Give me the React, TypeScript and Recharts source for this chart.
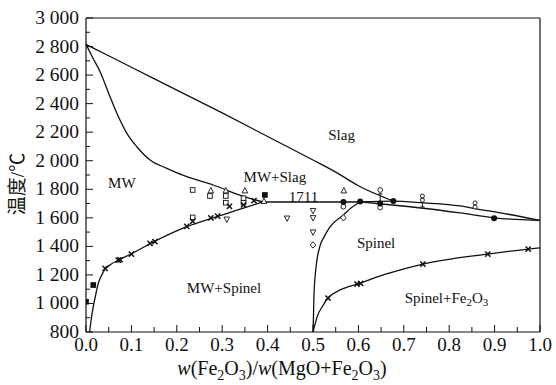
import React from 'react';
import { ComposedChart, Line, Scatter, XAxis, YAxis, ReferenceLine, ReferenceDot } from 'recharts';

// phase diagram MgO-Fe2O3
const slagLiquidus = [
  { x: 0, y: 2815 }, { x: 0.1, y: 2655 }, { x: 0.2, y: 2495 }, { x: 0.3, y: 2335 },
  { x: 0.4, y: 2170 }, { x: 0.5, y: 2005 }, { x: 0.55, y: 1920 }, { x: 0.6, y: 1825 },
  { x: 0.64, y: 1765 }, { x: 0.677, y: 1718 },
];
const mwLiquidus = [
  { x: 0, y: 2815 }, { x: 0.015, y: 2720 }, { x: 0.031, y: 2624 }, { x: 0.053, y: 2448 },
  { x: 0.068, y: 2332 }, { x: 0.09, y: 2192 }, { x: 0.112, y: 2098 }, { x: 0.141, y: 2005 },
  { x: 0.178, y: 1947 }, { x: 0.222, y: 1888 }, { x: 0.28, y: 1830 }, { x: 0.347, y: 1750 },
  { x: 0.39, y: 1711 },
];
const mwSolidus = [
  { x: 0.008, y: 800 }, { x: 0.012, y: 900 }, { x: 0.016, y: 978 }, { x: 0.022, y: 1070 },
  { x: 0.027, y: 1141 }, { x: 0.034, y: 1195 }, { x: 0.042, y: 1240 }, { x: 0.055, y: 1275 },
  { x: 0.071, y: 1303 }, { x: 0.1, y: 1348 }, { x: 0.145, y: 1425 }, { x: 0.222, y: 1538 },
  { x: 0.28, y: 1600 }, { x: 0.31, y: 1630 }, { x: 0.35, y: 1672 }, { x: 0.39, y: 1711 },
];
const eutectic = [{ x: 0.39, y: 1711 }, { x: 0.604, y: 1711 }];
const upperRight = [
  { x: 0.604, y: 1711 }, { x: 0.677, y: 1717 }, { x: 0.743, y: 1705 }, { x: 0.824, y: 1683 },
  { x: 0.86, y: 1663 }, { x: 0.93, y: 1625 }, { x: 1.0, y: 1582 },
];
const lowerRight = [
  { x: 0.604, y: 1711 }, { x: 0.68, y: 1688 }, { x: 0.743, y: 1667 }, { x: 0.824, y: 1634 },
  { x: 0.9, y: 1600 }, { x: 1.0, y: 1582 },
];
const spinelBoundary = [
  { x: 0.5, y: 800 }, { x: 0.501, y: 900 }, { x: 0.502, y: 1047 }, { x: 0.506, y: 1234 },
  { x: 0.515, y: 1398 }, { x: 0.525, y: 1470 }, { x: 0.537, y: 1535 }, { x: 0.567, y: 1620 },
  { x: 0.585, y: 1672 }, { x: 0.604, y: 1711 },
];
const fe2o3Boundary = [
  { x: 0.5, y: 800 }, { x: 0.505, y: 860 }, { x: 0.51, y: 915 }, { x: 0.52, y: 975 },
  { x: 0.533, y: 1038 }, { x: 0.56, y: 1095 }, { x: 0.6, y: 1138 }, { x: 0.66, y: 1205 },
  { x: 0.742, y: 1276 }, { x: 0.885, y: 1346 }, { x: 0.974, y: 1381 }, { x: 1.0, y: 1390 },
];

// experimental points
const squarePts = [
  { x: 0.235, y: 1795 }, { x: 0.273, y: 1753 }, { x: 0.308, y: 1753 }, { x: 0.308, y: 1706 },
  { x: 0.347, y: 1737 }, { x: 0.347, y: 1706 }, { x: 0.235, y: 1603 },
];
const triUpPts = [
  { x: 0.275, y: 1790 }, { x: 0.308, y: 1790 }, { x: 0.35, y: 1790 }, { x: 0.568, y: 1790 },
  { x: 0.392, y: 1716 },
];
const triDownPts = [
  { x: 0.31, y: 1590 }, { x: 0.443, y: 1597 }, { x: 0.5, y: 1650 }, { x: 0.5, y: 1600 },
  { x: 0.5, y: 1500 },
];
const circlePts = [{ x: 0.648, y: 1795 }, { x: 0.567, y: 1678 }, { x: 0.648, y: 1672 }];
const diamondPts = [{ x: 0.567, y: 1600 }, { x: 0.5, y: 1410 }];
const dotPts = [
  { x: 0.567, y: 1711 }, { x: 0.604, y: 1715 }, { x: 0.648, y: 1700 }, { x: 0.677, y: 1718 },
  { x: 0.899, y: 1597 },
];
const doublePts = [{ x: 0.741, y: 1738 }, { x: 0.857, y: 1690 }];
const barPts = [{ x: 0.648, y: 1740 }, { x: 0.741, y: 1705 }];
const filledSquarePts = [{ x: 0.0, y: 1012 }, { x: 0.016, y: 1129 }, { x: 0.394, y: 1760 }];
const crossPts = [
  { x: 0.042, y: 1246 }, { x: 0.071, y: 1304 }, { x: 0.075, y: 1306 }, { x: 0.1, y: 1346 },
  { x: 0.141, y: 1421 }, { x: 0.152, y: 1433 }, { x: 0.222, y: 1540 }, { x: 0.235, y: 1575 },
  { x: 0.275, y: 1600 }, { x: 0.29, y: 1612 }, { x: 0.316, y: 1680 }, { x: 0.347, y: 1690 },
  { x: 0.37, y: 1720 },
  { x: 0.533, y: 1038 }, { x: 0.597, y: 1136 }, { x: 0.605, y: 1140 }, { x: 0.742, y: 1276 },
  { x: 0.885, y: 1346 }, { x: 0.974, y: 1381 },
];

const xTicks = [0, 0.05, 0.1, 0.15, 0.2, 0.25, 0.3, 0.35, 0.4, 0.45, 0.5, 0.55, 0.6, 0.65, 0.7, 0.75, 0.8, 0.85, 0.9, 0.95, 1.0];
const xLabels = ['0.0', '0.1', '0.2', '0.3', '0.4', '0.5', '0.6', '0.7', '0.8', '0.9', '1.0'];
const yTicks = [800, 900, 1000, 1100, 1200, 1300, 1400, 1500, 1600, 1700, 1800, 1900, 2000, 2100, 2200, 2300, 2400, 2500, 2600, 2700, 2800, 2900, 3000];
const yLabels = ['800', '1 000', '1 200', '1 400', '1 600', '1 800', '2 000', '2 200', '2 400', '2 600', '2 800', '3 000'];

const FONT = 'Liberation Serif, DejaVu Serif, serif';
const serif = { fontFamily: FONT };
const LEFT = 86;
const BOTTOM = 332;
const INK = '#111';

function XTick({ x, payload }: any) {
  const k = Math.round(payload.value * 100);
  const major = k % 10 === 0;
  return (
    <g>
      <line x1={x} x2={x} y1={BOTTOM} y2={BOTTOM - (major ? 7 : 5)} stroke={INK} strokeWidth={1} />
      {major && (
        <text x={x} y={BOTTOM + 19} textAnchor="middle" style={serif} fontSize={19} fill={INK}>
          {xLabels[k / 10]}
        </text>
      )}
    </g>
  );
}

function YTick({ y, payload }: any) {
  const v = payload.value;
  const major = v % 200 === 0;
  return (
    <g>
      <line x1={LEFT} x2={LEFT + (major ? 7 : 4)} y1={y} y2={y} stroke={INK} strokeWidth={1} />
      {major && (
        <text x={79} y={y + 6} textAnchor="end" style={serif} fontSize={19.5} fill={INK}>
          {yLabels[(v - 800) / 200]}
        </text>
      )}
    </g>
  );
}

const sq = (p: any) => <rect x={p.cx - 2.3} y={p.cy - 2.3} width={4.6} height={4.6} fill="#fff" stroke={INK} strokeWidth={0.9} />;
const fsq = (p: any) => <rect x={p.cx - 2.3} y={p.cy - 2.3} width={4.6} height={4.6} fill={INK} stroke={INK} strokeWidth={1} />;
const tup = (p: any) => (
  <polygon points={`${p.cx},${p.cy - 3.2} ${p.cx - 2.8},${p.cy + 2.2} ${p.cx + 2.8},${p.cy + 2.2}`} fill="#fff" stroke={INK} strokeWidth={0.9} />
);
const tdn = (p: any) => (
  <polygon points={`${p.cx},${p.cy + 3.2} ${p.cx - 2.8},${p.cy - 2.2} ${p.cx + 2.8},${p.cy - 2.2}`} fill="#fff" stroke={INK} strokeWidth={0.9} />
);
const circ = (p: any) => <circle cx={p.cx} cy={p.cy} r={2.4} fill="#fff" stroke={INK} strokeWidth={0.9} />;
const dia = (p: any) => (
  <polygon points={`${p.cx},${p.cy - 3.2} ${p.cx + 2.8},${p.cy} ${p.cx},${p.cy + 3.2} ${p.cx - 2.8},${p.cy}`} fill="#fff" stroke={INK} strokeWidth={0.9} />
);
const dot = (p: any) => <circle cx={p.cx} cy={p.cy} r={3} fill={INK} />;
const dbl = (p: any) => (
  <g>
    <circle cx={p.cx} cy={p.cy - 2.1} r={2} fill="#fff" stroke={INK} strokeWidth={0.9} />
    <circle cx={p.cx} cy={p.cy + 2.1} r={2} fill="#fff" stroke={INK} strokeWidth={0.9} />
  </g>
);
const bar = (p: any) => (
  <g stroke={INK} strokeWidth={1}>
    <line x1={p.cx} x2={p.cx} y1={p.cy - 4} y2={p.cy + 4} />
    <line x1={p.cx - 2} x2={p.cx + 2} y1={p.cy - 4} y2={p.cy - 4} />
    <line x1={p.cx - 2} x2={p.cx + 2} y1={p.cy + 4} y2={p.cy + 4} />
  </g>
);
const cross = (p: any) => (
  <g stroke={INK} strokeWidth={1.5}>
    <line x1={p.cx - 2.6} x2={p.cx + 2.6} y1={p.cy - 2.6} y2={p.cy + 2.6} />
    <line x1={p.cx - 2.6} x2={p.cx + 2.6} y1={p.cy + 2.6} y2={p.cy - 2.6} />
  </g>
);

function regionLabel(text: React.ReactNode) {
  return {
    content: (props: any) => {
      const vb = props.viewBox || {};
      return (
        <text x={vb.x} y={vb.y} textAnchor="middle" dominantBaseline="central" style={serif} fontSize={15} fill={INK}>
          {text}
        </text>
      );
    },
  };
}

const curve = (data: any[], key: string) => (
  <Line
    key={key}
    data={data}
    dataKey="y"
    type="monotone"
    stroke={INK}
    strokeWidth={1.3}
    dot={false}
    activeDot={false}
    isAnimationActive={false}
  />
);

export default function App() {
  return (
    <div style={{ position: 'fixed', left: 0, top: 0, width: 556, height: 385, background: '#fff' }}>
      <ComposedChart width={556} height={385} margin={{ top: 18, right: 16, left: 0, bottom: 0 }}>
        <XAxis
          type="number"
          dataKey="x"
          domain={[0, 1]}
          ticks={xTicks}
          interval={0}
          tickLine={false}
          axisLine={{ stroke: INK, strokeWidth: 1.2 }}
          height={53}
          tick={<XTick />}
          allowDataOverflow
        />
        <YAxis
          type="number"
          dataKey="y"
          domain={[800, 3000]}
          ticks={yTicks}
          interval={0}
          tickLine={false}
          axisLine={{ stroke: INK, strokeWidth: 1.2 }}
          width={86}
          tick={<YTick />}
          allowDataOverflow
        />
        <ReferenceLine y={3000} stroke={INK} strokeWidth={1.2} />
        <ReferenceLine x={1} stroke={INK} strokeWidth={1.2} />

        {curve(slagLiquidus, 'slag')}
        {curve(mwLiquidus, 'mwl')}
        {curve(mwSolidus, 'mws')}
        {curve(eutectic, 'eut')}
        {curve(upperRight, 'ur')}
        {curve(lowerRight, 'lr')}
        {curve(spinelBoundary, 'sp')}
        {curve(fe2o3Boundary, 'fe')}

        <Scatter data={squarePts} dataKey="y" shape={sq} isAnimationActive={false} />
        <Scatter data={triUpPts} dataKey="y" shape={tup} isAnimationActive={false} />
        <Scatter data={triDownPts} dataKey="y" shape={tdn} isAnimationActive={false} />
        <Scatter data={circlePts} dataKey="y" shape={circ} isAnimationActive={false} />
        <Scatter data={diamondPts} dataKey="y" shape={dia} isAnimationActive={false} />
        <Scatter data={barPts} dataKey="y" shape={bar} isAnimationActive={false} />
        <Scatter data={dotPts} dataKey="y" shape={dot} isAnimationActive={false} />
        <Scatter data={doublePts} dataKey="y" shape={dbl} isAnimationActive={false} />
        <Scatter data={filledSquarePts} dataKey="y" shape={fsq} isAnimationActive={false} />
        <Scatter data={crossPts} dataKey="y" shape={cross} isAnimationActive={false} />

        <ReferenceDot x={0.563} y={2180} r={0} label={regionLabel('Slag')} />
        <ReferenceDot x={0.079} y={1842} r={0} label={regionLabel('MW')} />
        <ReferenceDot x={0.416} y={1888} r={0} label={regionLabel('MW+Slag')} />
        <ReferenceDot x={0.479} y={1748} r={0} label={regionLabel('1711')} />
        <ReferenceDot x={0.639} y={1421} r={0} label={regionLabel('Spinel')} />
        <ReferenceDot x={0.304} y={1106} r={0} label={regionLabel('MW+Spinel')} />
        <ReferenceDot
          x={0.794}
          y={1036}
          r={0}
          label={regionLabel(
            <>
              Spinel+Fe
              <tspan fontSize={11} dy={4}>2</tspan>
              <tspan dy={-4}>O</tspan>
              <tspan fontSize={11} dy={4}>3</tspan>
            </>
          )}
        />

        <text
          x={17}
          y={184}
          transform="rotate(-90 17 184)"
          textAnchor="middle"
          dominantBaseline="central"
          style={{ fontFamily: 'Liberation Serif, Noto Sans CJK SC, serif' }}
          fontSize={19}
          fill={INK}
        >
          温度/℃
        </text>
        <text x={282} y={375} textAnchor="middle" style={serif} fontSize={20} fill={INK}>
          <tspan fontStyle="italic">w</tspan>
          <tspan>(Fe</tspan>
          <tspan fontSize={14} dy={5}>2</tspan>
          <tspan dy={-5}>O</tspan>
          <tspan fontSize={14} dy={5}>3</tspan>
          <tspan dy={-5}>)/</tspan>
          <tspan fontStyle="italic">w</tspan>
          <tspan>(MgO+Fe</tspan>
          <tspan fontSize={14} dy={5}>2</tspan>
          <tspan dy={-5}>O</tspan>
          <tspan fontSize={14} dy={5}>3</tspan>
          <tspan dy={-5}>)</tspan>
        </text>
      </ComposedChart>
    </div>
  );
}
